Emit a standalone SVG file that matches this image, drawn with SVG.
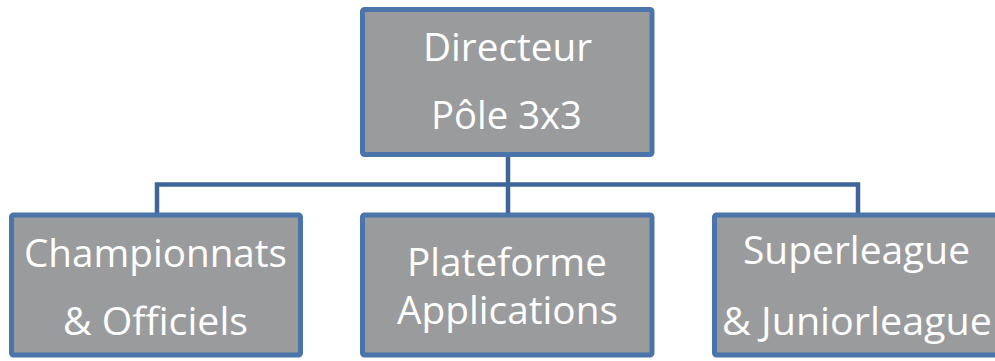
<svg xmlns="http://www.w3.org/2000/svg" width="995" height="361" viewBox="0 0 995 361">
<style>
.box{fill:#9a9b9d;stroke:#4a74aa;stroke-width:5}
.conn{fill:none;stroke:#3f6598;stroke-width:4.5}
.t{fill:#ffffff;font-family:"Open Sans","Noto Sans","DejaVu Sans",sans-serif;font-size:39px}
</style>
<rect width="995" height="361" fill="#ffffff"/>
<g id="connectors">
<path class="conn" d="M508,156 V215"/>
<path class="conn" d="M157,215 V184.5 H858 V215"/>
</g>
<g id="n-directeur">
<rect class="box" x="362.5" y="9.5" width="289.5" height="145" rx="2"/>
<text class="t" x="423" y="61" textLength="169" lengthAdjust="spacingAndGlyphs">Directeur</text>
<text class="t" x="431" y="128.5" textLength="151" lengthAdjust="spacingAndGlyphs">Pôle 3x3</text>
</g>
<g id="n-championnats">
<rect class="box" x="11.5" y="215" width="289" height="140" rx="2"/>
<text class="t" x="24" y="267" textLength="263" lengthAdjust="spacingAndGlyphs">Championnats</text>
<text class="t" x="63" y="335" textLength="185" lengthAdjust="spacingAndGlyphs">&amp; Officiels</text>
</g>
<g id="n-plateforme">
<rect class="box" x="362.5" y="215" width="289.5" height="140" rx="2"/>
<text class="t" x="407" y="276" textLength="200" lengthAdjust="spacingAndGlyphs">Plateforme</text>
<text class="t" x="397" y="323.5" textLength="221" lengthAdjust="spacingAndGlyphs">Applications</text>
</g>
<g id="n-superleague">
<rect class="box" x="714.5" y="215" width="289.5" height="140" rx="2"/>
<text class="t" x="743" y="263.5" textLength="227" lengthAdjust="spacingAndGlyphs">Superleague</text>
<text class="t" x="722" y="335" textLength="270" lengthAdjust="spacingAndGlyphs">&amp; Juniorleague</text>
</g>
</svg>
